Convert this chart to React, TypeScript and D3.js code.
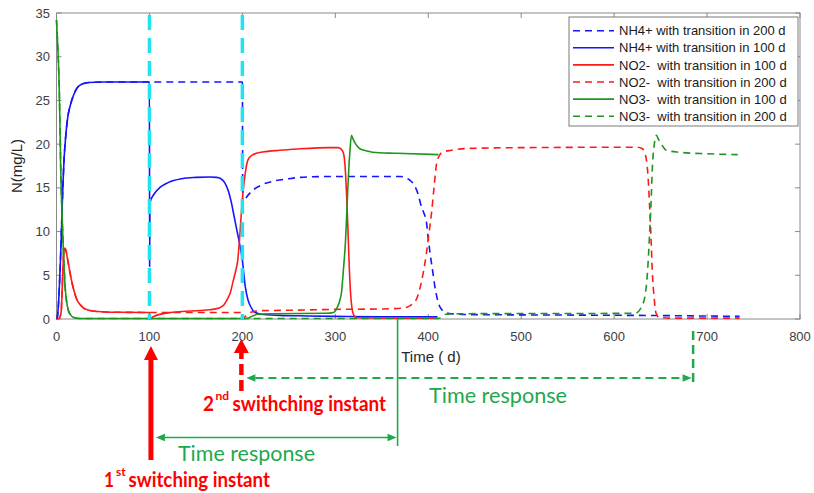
import React from "react";
import * as d3 from "d3";

type Pt = [number, number];

// time (d), concentration (mg/L)
const nh4Startup: Pt[] = [
  [0, 0], [1, 0.3], [2, 1.5], [3, 3.5], [4, 6], [5, 9], [6, 12.5], [7, 15.5],
  [8, 18], [10, 21], [12, 23], [15, 24.5], [18, 25.5], [22, 26.4], [27, 26.85],
  [35, 27.05], [50, 27.1], [100, 27.1],
];
const nh4After100: Pt[] = [
  [100.2, 6], [100.6, 13.3], [105, 14.3], [112, 15.1], [120, 15.6], [135, 16.05],
  [150, 16.2], [165, 16.25], [172, 16.2], [176, 16.1], [181, 15.6], [185, 14.6],
  [188, 13.4], [191, 11.8], [194, 10.2], [197, 8.6], [200, 6.7], [203, 3.8],
  [206, 2.2], [209, 1.4], [213, 0.8], [220, 0.55], [240, 0.42], [270, 0.35],
  [300, 0.3], [350, 0.25], [410, 0.25],
];
const nh4After200: Pt[] = [
  [150, 27.1], [200, 27.1], [200.4, 13.2], [203, 13.7], [210, 14.6], [220, 15.3],
  [235, 15.8], [250, 16.05], [270, 16.25], [300, 16.3], [350, 16.3], [370, 16.3],
  [376, 16.15], [380, 15.9], [383, 15.6], [386, 15.1], [389, 14.3], [392, 13.1],
  [395, 12.2], [398, 11.1], [400, 9.2], [402, 7.5], [405, 5.3], [407, 3.8],
  [410, 2.2], [413, 1.3], [418, 0.8], [425, 0.6], [450, 0.5], [550, 0.45],
  [640, 0.4], [735, 0.3],
];

const no2Startup: Pt[] = [
  [0, 0], [3, 0.1], [5, 0.8], [6, 3], [7, 6], [8, 7.7], [9, 8.1], [10, 7.9],
  [12, 6.8], [14.5, 5.3], [17, 4.0], [20, 2.8], [22, 2.2], [25, 1.7], [28.5, 1.3],
  [35, 1.0], [45, 0.85], [60, 0.78], [100, 0.75],
];
const no2After100: Pt[] = [
  [100.5, 0.05], [104, 0.25], [110, 0.5], [120, 0.7], [135, 0.85], [150, 0.95],
  [165, 1.05], [175, 1.25], [180, 1.6], [184, 2.3], [187, 3.0], [190, 4.3],
  [193, 5.6], [195, 6.7], [197, 9.2], [199, 12.3], [201, 14.8], [203, 16.6],
  [206, 18.2], [210, 18.7], [215, 18.95], [222, 19.1], [240, 19.3], [260, 19.45],
  [294, 19.6], [303, 19.6], [306, 19.45], [308.7, 19.0], [310.5, 17.5], [312, 14.5],
  [313.5, 10.5], [315, 6.0], [316.5, 2.8], [318, 1.2], [320, 0.4], [323, 0.15],
  [360, 0.1], [410, 0.1],
];
const no2After200: Pt[] = [
  [150, 0.75], [197, 0.75], [200, 0.72], [200.5, 0.05], [204, 0.4], [210, 0.8],
  [220, 0.95], [250, 1.0], [300, 1.1], [350, 1.15], [373, 1.25], [380, 1.5],
  [384, 1.8], [387, 2.2], [391, 3.5], [395, 5.5], [398, 7.5], [401, 10],
  [403.5, 12.1], [406, 14.8], [409, 17.8], [412, 18.7], [415.6, 19.1], [425, 19.3],
  [441, 19.5], [500, 19.6], [625, 19.65], [630, 19.5], [633, 19.0], [636, 17],
  [638, 13.3], [640, 8.5], [641, 5.6], [643, 2.5], [645, 0.7], [648, 0.2],
  [660, 0.1], [735, 0.1],
];

const no3Startup: Pt[] = [
  [0, 34.2], [1, 32], [2, 29.6], [3, 26.2], [4, 20.5], [4.5, 17.4], [5.5, 13.5],
  [6.7, 9.8], [8, 6.3], [9, 4.1], [10.5, 2.3], [12.7, 1.0], [15, 0.5], [18, 0.2],
  [25, 0.05], [100, 0.05], [200, 0.05],
];
const no3After100: Pt[] = [
  [206, 0.08], [210, 0.3], [217, 0.54], [230, 0.6], [290, 0.65], [298, 0.75],
  [302, 1.3], [304.5, 2.0], [306.6, 3.0], [309, 6], [311, 9], [312, 11.3],
  [313.5, 15], [315.6, 19], [317.4, 21.0], [319, 20.6], [322, 20.0], [326, 19.5],
  [333, 19.25], [340, 19.07], [366, 18.95], [411, 18.8],
];
const no3After200: Pt[] = [
  [410, 0.05], [414, 0.2], [419, 0.55], [430, 0.6], [620, 0.65], [625, 0.75],
  [629, 1.3], [633, 2.5], [636, 5.5], [638, 9.4], [640, 14], [641, 17],
  [643, 19.8], [645.5, 21.0], [648, 20.5], [652, 19.8], [656, 19.3], [670, 19.07],
  [700, 18.9], [733, 18.8],
];

const switchTimes = [100, 200];
const xTicks = [0, 100, 200, 300, 400, 500, 600, 700, 800];
const yTicks = [0, 5, 10, 15, 20, 25, 30, 35];

// end of each time-response span (d)
const response100End = 367;
const response200End = 685;

const BLUE = "#1414ff";
const RED = "#ff1a1a";
const GREEN = "#1e961e";
const ANNOT_GREEN = "#1fa84c";
const DASH = "7 5";

const series = [
  { name: "NH4+ with transition in 200 d", color: BLUE, dashed: true, data: [...nh4Startup, ...nh4After200] },
  { name: "NH4+ with transition in 100 d", color: BLUE, dashed: false, data: [...nh4Startup, ...nh4After100] },
  { name: "NO2-  with transition in 100 d", color: RED, dashed: false, data: [...no2Startup, ...no2After100] },
  { name: "NO2-  with transition in 200 d", color: RED, dashed: true, data: [...no2Startup, ...no2After200] },
  { name: "NO3-  with transition in 100 d", color: GREEN, dashed: false, data: [...no3Startup, ...no3After100] },
  { name: "NO3-  with transition in 200 d", color: GREEN, dashed: true, data: [...no3Startup, ...no3After200] },
];

const W = 814;
const H = 493;

export default function App() {
  const x = d3.scaleLinear().domain([0, 800]).range([56.5, 800]);
  const y = d3.scaleLinear().domain([0, 35]).range([319, 13]);
  const line = d3
    .line<Pt>()
    .x((d) => x(d[0]))
    .y((d) => y(d[1]))
    .curve(d3.curveMonotoneX);

  const [x0, x1] = x.range();
  const [yb, yt] = y.range();
  const axisColor = "#8a8a8a";
  const tickColor = "#404040";

  // annotation layout
  const dashArrowY = 378;
  const solidArrowY = 437.5;
  const a1 = x(switchTimes[0]) + 1.5;
  const a2 = x(switchTimes[1]) - 1;
  const r1 = x(response100End);
  const r2 = x(response200End);

  return (
    <svg
      width={W}
      height={H}
      style={{ position: "absolute", left: 0, top: 0, background: "#fff" }}
      fontFamily="'Liberation Sans', Arial, sans-serif"
    >
      {/* plot box */}
      <rect x={x0} y={yt} width={x1 - x0} height={yb - yt} fill="#fff" stroke={axisColor} strokeWidth={1} />

      {/* ticks, inside on all sides */}
      {xTicks.map((t) => (
        <g key={"xt" + t}>
          <line x1={x(t)} x2={x(t)} y1={yb} y2={yb - 5} stroke={axisColor} />
          <line x1={x(t)} x2={x(t)} y1={yt} y2={yt + 5} stroke={axisColor} />
          <text x={x(t)} y={341} textAnchor="middle" fontSize={13} fill={tickColor}>
            {t}
          </text>
        </g>
      ))}
      {yTicks.map((t) => (
        <g key={"yt" + t}>
          <line x1={x0} x2={x0 + 5} y1={y(t)} y2={y(t)} stroke={axisColor} />
          <line x1={x1} x2={x1 - 5} y1={y(t)} y2={y(t)} stroke={axisColor} />
          <text x={50} y={y(t) + 4.5} textAnchor="end" fontSize={13} fill={tickColor}>
            {t}
          </text>
        </g>
      ))}

      {/* axis labels */}
      <text x={431} y={362} textAnchor="middle" fontSize={15} fill="#262626">
        Time ( d)
      </text>
      <text
        transform={`translate(22,${(yb + yt) / 2}) rotate(-90)`}
        textAnchor="middle"
        fontSize={15}
        fill="#262626"
      >
        N(mg/L)
      </text>

      {/* curves */}
      {series.map((s) => (
        <path
          key={s.name}
          d={line(s.data) || ""}
          fill="none"
          stroke={s.color}
          strokeWidth={1.6}
          strokeDasharray={s.dashed ? DASH : undefined}
        />
      ))}

      {/* switching instants */}
      {switchTimes.map((t) => (
        <line
          key={"sw" + t}
          x1={x(t)}
          x2={x(t)}
          y1={yt + 2}
          y2={yb}
          stroke="#22e4f0"
          strokeWidth={3.5}
          strokeDasharray="15 8"
        />
      ))}

      {/* legend */}
      <g>
        <rect x={569} y={17} width={229} height={109} fill="#fff" stroke="#7a7a7a" strokeWidth={1} />
        {series.map((s, i) => {
          const ry = 30.7 + i * 17.1;
          return (
            <g key={"lg" + s.name}>
              <line
                x1={573}
                x2={614}
                y1={ry}
                y2={ry}
                stroke={s.color}
                strokeWidth={1.6}
                strokeDasharray={s.dashed ? DASH : undefined}
              />
              <text x={619} y={ry + 4.6} fontSize={13} fill="#1a1a1a" style={{ whiteSpace: "pre" }}>
                {s.name}
              </text>
            </g>
          );
        })}
      </g>

      {/* red arrows: switching instants */}
      <line x1={a1} x2={a1} y1={460} y2={358} stroke="#ff0000" strokeWidth={5} />
      <polygon points={`${a1 - 7},${360} ${a1 + 7},${360} ${a1},${346}`} fill="#ff0000" />
      <line x1={a2} x2={a2} y1={391} y2={352} stroke="#ff0000" strokeWidth={4.5} strokeDasharray="11 5" />
      <polygon points={`${a2 - 7.5},${353} ${a2 + 7.5},${353} ${a2},${339}`} fill="#ff0000" />

      <g fontFamily="Lato, 'Open Sans', sans-serif" fontWeight={700} fill="#ff0000">
        <text x={104} y={487} fontSize={21} textLength={10} lengthAdjust="spacingAndGlyphs">1</text>
        <text x={116} y={476} fontSize={12}>st</text>
        <text x={128.5} y={487} fontSize={21} textLength={141.5} lengthAdjust="spacingAndGlyphs">
          switching instant
        </text>
        <text x={203} y={411} fontSize={21} textLength={11} lengthAdjust="spacingAndGlyphs">2</text>
        <text x={215.5} y={400} fontSize={12}>nd</text>
        <text x={232.5} y={411} fontSize={21} textLength={153.5} lengthAdjust="spacingAndGlyphs">
          swithching instant
        </text>
      </g>

      {/* time response spans */}
      <line x1={r1} x2={r1} y1={yb} y2={446} stroke={ANNOT_GREEN} strokeWidth={1.6} />
      <line x1={a1 + 12} x2={r1 - 9} y1={solidArrowY} y2={solidArrowY} stroke={ANNOT_GREEN} strokeWidth={1.6} />
      <polygon
        points={`${a1 + 5},${solidArrowY} ${a1 + 14},${solidArrowY - 3.8} ${a1 + 14},${solidArrowY + 3.8}`}
        fill={ANNOT_GREEN}
      />
      <polygon
        points={`${r1 - 1},${solidArrowY} ${r1 - 10},${solidArrowY - 3.8} ${r1 - 10},${solidArrowY + 3.8}`}
        fill={ANNOT_GREEN}
      />

      <line x1={r2} x2={r2} y1={331} y2={386} stroke={ANNOT_GREEN} strokeWidth={2.5} strokeDasharray="9 5" />
      <line
        x1={a2 + 14}
        x2={r2 - 10}
        y1={dashArrowY}
        y2={dashArrowY}
        stroke={ANNOT_GREEN}
        strokeWidth={2}
        strokeDasharray="8 5"
      />
      <polygon
        points={`${a2 + 5},${dashArrowY} ${a2 + 14},${dashArrowY - 3.8} ${a2 + 14},${dashArrowY + 3.8}`}
        fill={ANNOT_GREEN}
      />
      <polygon
        points={`${r2 - 1.5},${dashArrowY} ${r2 - 10.5},${dashArrowY - 3.8} ${r2 - 10.5},${dashArrowY + 3.8}`}
        fill={ANNOT_GREEN}
      />

      <g fontFamily="Lato, 'Open Sans', sans-serif" fill={ANNOT_GREEN} fontSize={21}>
        <text x={178} y={461} textLength={137} lengthAdjust="spacingAndGlyphs">
          Time response
        </text>
        <text x={429} y={403} textLength={138} lengthAdjust="spacingAndGlyphs">
          Time response
        </text>
      </g>
    </svg>
  );
}
